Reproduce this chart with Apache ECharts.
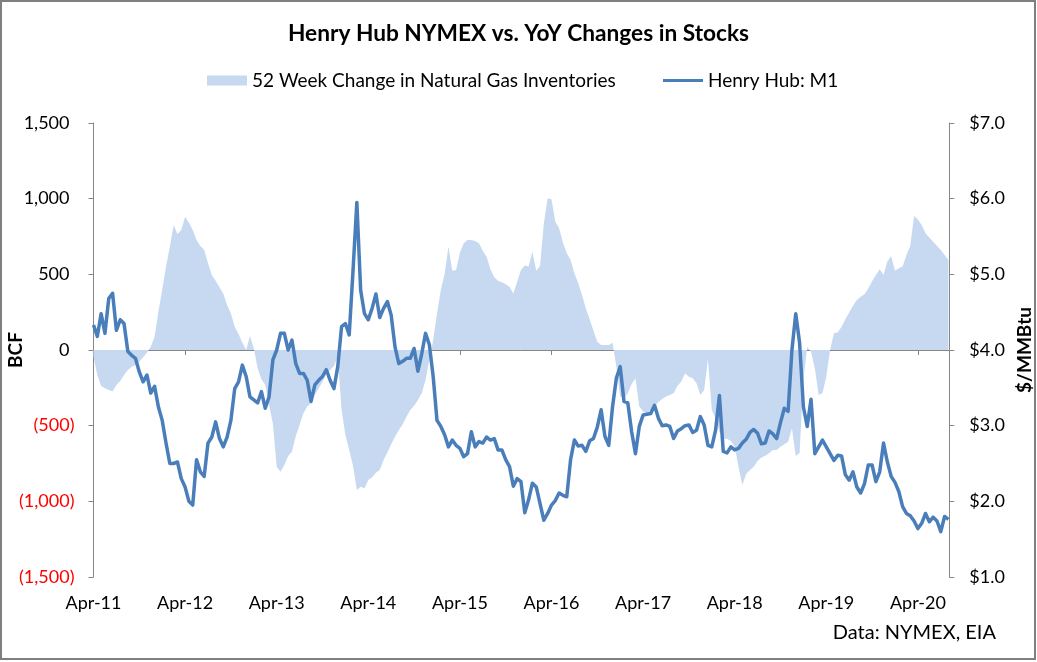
<!DOCTYPE html>
<html>
<head>
<meta charset="utf-8">
<script src="https://cdn.jsdelivr.net/npm/echarts@6/dist/echarts.min.js"></script>
<style>
html,body{margin:0;padding:0;background:#fff;}
#chart{width:1037px;height:662px;}
</style>
</head>
<body>
<div id="chart"></div>
<script>
// Half-monthly observations starting Apr-2011 (x in decimal years)
const startYear = 2011.25;
const stepYears = 1 / 24;

// Henry Hub front month, $/MMBtu
const henryHubM1 = [
  4.33, 4.18, 4.48, 4.22, 4.68, 4.75, 4.26, 4.40, 4.35, 3.98,
  3.93, 3.89, 3.71, 3.58, 3.67, 3.43, 3.52, 3.25, 3.07, 2.77,
  2.50, 2.50, 2.52, 2.30, 2.19, 2.00, 1.95, 2.55, 2.39, 2.33,
  2.77, 2.85, 3.05, 2.83, 2.72, 2.85, 3.07, 3.49, 3.58,
  3.80, 3.65, 3.38, 3.34, 3.30, 3.45, 3.23, 3.38, 3.87, 4.00,
  4.22, 4.22, 4.00, 4.13, 3.82, 3.69, 3.69, 3.60, 3.32, 3.54,
  3.60, 3.65, 3.74, 3.60, 3.49, 3.78, 4.31, 4.35, 4.20, 5.05,
  5.95, 4.79, 4.48, 4.40, 4.55, 4.74, 4.43,
  4.55, 4.64, 4.46, 4.04, 3.82, 3.85, 3.89, 3.89, 4.02, 3.72,
  3.95, 4.22, 4.07, 3.65, 3.07, 2.99, 2.88, 2.72, 2.81, 2.74,
  2.70, 2.59, 2.63, 2.92, 2.72, 2.79, 2.77, 2.85, 2.81, 2.83,
  2.68, 2.68, 2.55, 2.46, 2.20, 2.30,
  2.26, 1.85, 2.02, 2.24, 2.19, 1.97, 1.75, 1.84, 1.95, 2.01,
  2.11, 2.08, 2.06, 2.55, 2.81, 2.73, 2.74, 2.66, 2.80, 2.83,
  2.98, 3.21, 2.86, 2.74, 3.25, 3.63, 3.78, 3.32, 3.30, 2.92,
  2.63, 2.99, 3.14, 3.15, 3.16, 3.27, 3.10,
  3.00, 3.01, 2.99, 2.83, 2.93, 2.96, 3.00, 3.01, 2.91, 2.94,
  3.12, 3.01, 2.74, 2.72, 2.94, 3.40, 2.66, 2.64, 2.72, 2.68,
  2.70, 2.77, 2.82, 2.91, 2.95, 2.90, 2.76, 2.77, 2.93, 2.89,
  2.83, 3.04, 3.23, 3.19, 4.00, 4.48, 4.10,
  3.25, 2.99, 3.35, 2.63, 2.72, 2.81, 2.72, 2.63, 2.54, 2.61,
  2.60, 2.35, 2.28, 2.39, 2.19, 2.11, 2.23, 2.48, 2.48, 2.26,
  2.39, 2.77, 2.52, 2.33, 2.25, 2.13, 1.93, 1.84, 1.81, 1.74,
  1.64, 1.71, 1.84, 1.73, 1.79, 1.74, 1.60, 1.80, 1.76
];

// 52 week change in natural gas inventories, BCF
const storageChange = [
  -44, -165, -238, -253, -264, -275, -231, -205, -165, -132,
  -110, -99, -77, -48, -18, 22, 88, 253, 396, 551,
  683, 826, 766, 793, 881, 841, 793, 727, 687, 661,
  573, 496, 458, 414, 374, 297, 242, 154, 105,
  48, 0, 93, 11, -121, -194, -231, -363, -485, -771,
  -804, -760, -700, -672, -568, -496, -418, -374, -348, -297,
  -253, -209, -159, -132, -106, -44, -396, -562, -661, -766,
  -925, -903, -914, -859, -841, -811, -793,
  -727, -678, -623, -573, -529, -491, -441, -396, -368, -330,
  -286, -198, -66, 66, 242, 396, 502, 683, 524, 529,
  643, 705, 727, 727, 720, 705, 656, 617, 533, 480,
  458, 447, 434, 418, 374, 450,
  529, 559, 551, 650, 524, 555, 837, 1002, 996, 848,
  804, 709, 639, 595, 507, 441, 363, 275, 203, 128,
  55, 33, 33, 33, 48, -110, -308, -319, -286, -225,
  -187, -374, -407, -418, -396, -370, -345,
  -324, -308, -297, -286, -236, -209, -154, -176, -187, -220,
  -297, -264, -60, -396, -452, -540, -584, -586, -601, -639,
  -771, -892, -819, -793, -771, -733, -711, -698, -683, -661,
  -661, -639, -623, -606, -518, -700, -680,
  -198, 20, -11, -121, -297, -286, -176, 0, 110, 115,
  154, 203, 247, 293, 330, 352, 368, 407, 454, 496,
  533, 496, 584, 621, 524, 540, 551, 628, 687, 885,
  863, 826, 771, 744, 716, 687, 661, 628, 595
];

const xTickLabels = ['Apr-11','Apr-12','Apr-13','Apr-14','Apr-15','Apr-16','Apr-17','Apr-18','Apr-19','Apr-20'];
const xEnd = 2020.593;

const areaName = '52 Week Change in Natural Gas Inventories';
const lineName = 'Henry Hub: M1';

const dates = henryHubM1.map((_, i) => startYear + i * stepYears);
const lineData = dates.map((d, i) => [d, henryHubM1[i]]);
const areaData = dates.map((d, i) => [d, storageChange[i]]);

const FONT = 'Lato, "Open Sans", sans-serif';
const GRAY = '#868686';

const chart = echarts.init(document.getElementById('chart'), null, {renderer: 'canvas'});

function fmtThousands(n) {
  return Math.abs(n).toLocaleString('en-US');
}
function xLabel(v) {
  const k = Math.round(v - startYear);
  if (Math.abs(v - startYear - k) > 0.01) return '';
  return xTickLabels[k] || '';
}

chart.setOption({
  animation: false,
  backgroundColor: '#fff',
  title: {
    text: 'Henry Hub NYMEX vs. YoY Changes in Stocks',
    left: 'center',
    top: 17,
    textStyle: {fontFamily: FONT, fontSize: 22.7, fontWeight: 'bold', color: '#000'}
  },
  legend: [
    {
      data: [{name: areaName, icon: 'rect'}],
      left: 207, top: 71, padding: 0,
      itemWidth: 40, itemHeight: 10, itemGap: 5,
      textStyle: {fontFamily: FONT, fontSize: 19, color: '#000'}
    },
    {
      data: [{name: lineName, icon: 'rect'}],
      left: 663, top: 71, padding: 0,
      itemWidth: 40, itemHeight: 3, itemGap: 5,
      textStyle: {fontFamily: FONT, fontSize: 19, color: '#000'}
    }
  ],
  grid: {left: 93.5, right: 87.7, top: 123, bottom: 85, outerBoundsMode: 'none', containLabel: false},
  xAxis: [
    {
      type: 'value',
      min: startYear,
      max: xEnd,
      interval: 1,
      axisLine: {show: true, onZero: true, lineStyle: {color: GRAY, width: 1}},
      axisTick: {show: true, length: 5, lineStyle: {color: GRAY}},
      splitLine: {show: false},
      axisLabel: {show: false}
    },
    {
      type: 'value',
      position: 'bottom',
      min: startYear,
      max: xEnd,
      interval: 1,
      axisLine: {show: false, onZero: false},
      axisTick: {show: false},
      splitLine: {show: false},
      axisLabel: {
        show: true,
        fontFamily: FONT, fontSize: 18, color: '#000',
        margin: 17,
        showMaxLabel: false,
        formatter: xLabel
      }
    }
  ],
  yAxis: [
    {
      type: 'value', min: -1500, max: 1500, interval: 500, position: 'left',
      axisLine: {show: true, onZero: false, lineStyle: {color: GRAY}},
      axisTick: {show: true, length: 5, lineStyle: {color: GRAY}},
      splitLine: {show: false},
      name: 'BCF', nameLocation: 'middle', nameGap: 68, nameRotate: 90, nameMoveOverlap: false,
      nameTextStyle: {fontFamily: FONT, fontSize: 19, fontWeight: 'bold', color: '#000'},
      axisLabel: {
        fontFamily: FONT, fontSize: 18, color: '#000', margin: 19,
        formatter: function (v) {
          if (v < 0) return '{neg|(' + fmtThousands(v) + ')}';
          return '{pos|' + fmtThousands(v) + '}';
        },
        rich: {
          neg: {fontFamily: FONT, fontSize: 18, color: '#ff0000'},
          pos: {fontFamily: FONT, fontSize: 18, color: '#000', padding: [0, 5, 0, 0]}
        }
      }
    },
    {
      type: 'value', min: 1, max: 7, interval: 1, position: 'right',
      axisLine: {show: true, onZero: false, lineStyle: {color: GRAY}},
      axisTick: {show: true, length: 5, lineStyle: {color: GRAY}},
      splitLine: {show: false},
      name: '$/MMBtu', nameLocation: 'middle', nameGap: 63, nameRotate: 90,
      nameTextStyle: {fontFamily: FONT, fontSize: 19, fontWeight: 'bold', color: '#000'},
      axisLabel: {
        fontFamily: FONT, fontSize: 18, color: '#000', margin: 20,
        formatter: function (v) { return '$' + v.toFixed(1); }
      }
    }
  ],
  series: [
    {
      name: areaName,
      type: 'line',
      xAxisIndex: 0,
      yAxisIndex: 0,
      data: areaData,
      symbol: 'none',
      lineStyle: {width: 0, color: '#C6D9F1'},
      itemStyle: {color: '#C6D9F1'},
      areaStyle: {color: '#C6D9F1', opacity: 1, origin: 0},
      z: 1
    },
    {
      name: lineName,
      type: 'line',
      xAxisIndex: 0,
      yAxisIndex: 1,
      data: lineData,
      symbol: 'none',
      lineStyle: {width: 3.5, color: '#4A7EBB', join: 'round'},
      itemStyle: {color: '#4A7EBB'},
      z: 3
    }
  ],
  graphic: [
    {
      type: 'rect',
      shape: {x: 1, y: 1, width: 1034, height: 658},
      style: {fill: 'none', stroke: '#7f7f7f', lineWidth: 2},
      silent: true, z: 100
    },
    {
      type: 'text',
      right: 41, top: 623,
      style: {text: 'Data: NYMEX, EIA', fontFamily: FONT, fontSize: 20, fill: '#000'}
    }
  ]
});
</script>
</body>
</html>
